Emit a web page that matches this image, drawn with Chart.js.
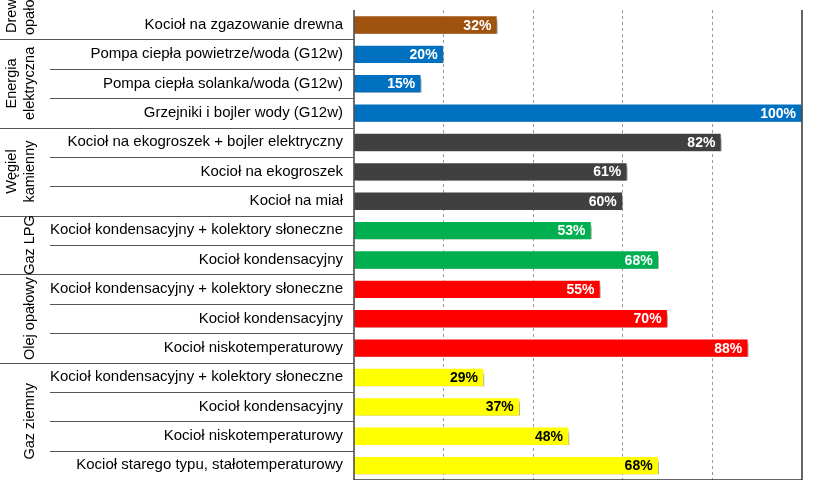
<!DOCTYPE html>
<html><head><meta charset="utf-8">
<script src="https://cdn.jsdelivr.net/npm/chart.js@4"></script>
<style>html,body{margin:0;padding:0;overflow:hidden;background:#fff;width:825px;height:480px;position:relative}
#c{position:absolute;left:0;top:-10px;width:825px;height:510px}</style>
</head><body><canvas id="c" width="825" height="510"></canvas>
<script>
const categories = [
 "Kocioł na zgazowanie drewna",
 "Pompa ciepła powietrze/woda (G12w)",
 "Pompa ciepła solanka/woda (G12w)",
 "Grzejniki i bojler wody (G12w)",
 "Kocioł na ekogroszek + bojler elektryczny",
 "Kocioł na ekogroszek",
 "Kocioł na miał",
 "Kocioł kondensacyjny + kolektory słoneczne",
 "Kocioł kondensacyjny",
 "Kocioł kondensacyjny + kolektory słoneczne",
 "Kocioł kondensacyjny",
 "Kocioł niskotemperaturowy",
 "Kocioł kondensacyjny + kolektory słoneczne",
 "Kocioł kondensacyjny",
 "Kocioł niskotemperaturowy",
 "Kocioł starego typu, stałotemperaturowy"
];
const values = [32,20,15,100,82,61,60,53,68,55,70,88,29,37,48,68];
const groups = [["Drewno","opałowe"],["Energia","elektryczna"],["Węgiel","kamienny"],["Gaz LPG"],["Olej opałowy"],["Gaz ziemny"]];
const groupSizes = [1,3,3,2,3,4];
const groupColors = ["#A0520F","#0070C0","#404040","#00B050","#FF0000","#FFFF00"];

const barColors=[], textColors=[];
groupSizes.forEach((n,g)=>{for(let i=0;i<n;i++){barColors.push(groupColors[g]);textColors.push(g===5?"#000":"#fff");}});

const deco={id:'deco',
 beforeDatasetsDraw(ch){const c=ch.ctx;c.save();c.shadowColor='rgba(0,0,0,0.35)';c.shadowOffsetX=3;c.shadowOffsetY=4;c.shadowBlur=3;},
 afterDatasetsDraw(ch){const c=ch.ctx;c.restore();const a=ch.chartArea;
  const meta=ch.getDatasetMeta(0);
  c.save();c.font='bold 14px "Liberation Sans", Arial';c.textAlign='right';c.textBaseline='middle';
  meta.data.forEach((b,i)=>{c.fillStyle=textColors[i];c.fillText(values[i]+'%',b.x-6,b.y+1);});
  c.strokeStyle='#333';c.lineWidth=1.5;c.beginPath();c.moveTo(a.right,a.top);c.lineTo(a.right,a.bottom);c.lineTo(a.left,a.bottom);c.stroke();
  c.strokeStyle='#111';c.lineWidth=1.2;c.beginPath();c.moveTo(a.left,a.top);c.lineTo(a.left,a.bottom);c.stroke();
  const step=(a.bottom-a.top)/categories.length;
  c.strokeStyle='#555';c.lineWidth=1;
  let idx=0;
  groupSizes.forEach((n,g)=>{
   for(let i=1;i<n;i++){const yy=Math.round(a.top+(idx+i)*step)+0.5;c.beginPath();c.moveTo(50,yy);c.lineTo(a.left,yy);c.stroke();}
   const yb=Math.round(a.top+(idx+n)*step)+0.5;c.beginPath();c.moveTo(0,yb);c.lineTo(a.left,yb);c.stroke();
   const cy=g===0?a.top-2:a.top+(idx+n/2)*step;
   const L=groups[g];
   c.save();c.fillStyle='#000';c.font='14.5px "Liberation Sans", Arial';c.textAlign='center';c.textBaseline='middle';
   if(L.length===1){c.translate(30,cy);c.rotate(-Math.PI/2);c.fillText(L[0],0,0);}
   else{c.translate(21,cy);c.rotate(-Math.PI/2);c.fillText(L[0],0,-9);c.fillText(L[1],0,9);}
   c.restore();idx+=n;});
  c.restore();}
};
new Chart(document.getElementById('c'),{type:'bar',
 data:{labels:categories,datasets:[{data:values,backgroundColor:barColors,borderColor:'rgba(255,255,255,0.35)',borderWidth:{top:1,right:1,bottom:0,left:0},barThickness:18,borderSkipped:'left'}]},
 options:{indexAxis:'y',responsive:false,animation:false,devicePixelRatio:1,
  layout:{padding:{top:8.6,bottom:8.6,right:23,left:0}},
  plugins:{legend:{display:false},tooltip:{enabled:false}},
  scales:{
   x:{min:0,max:100,ticks:{display:false,stepSize:20},border:{display:false,dash:[3,3]},
      grid:{drawTicks:false,color:c=>(c.tick&&c.tick.value>0&&c.tick.value<100)?'#999':'rgba(0,0,0,0)'}},
   y:{afterFit(s){s.width=354;},border:{display:false},grid:{display:false,drawTicks:false},
      ticks:{padding:11,color:'#000',font:{family:'"Liberation Sans", Arial',size:15}}}
  }},
 plugins:[deco]});
</script></body></html>
